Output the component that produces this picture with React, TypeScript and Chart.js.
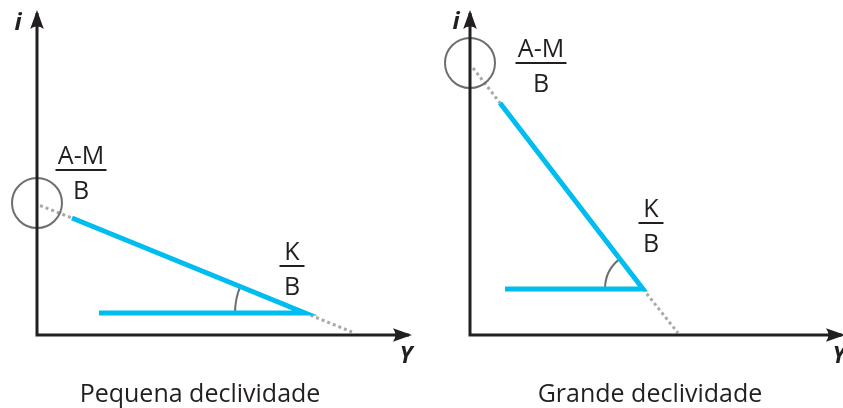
import { useEffect, useRef } from 'react';
import { Chart, registerables } from 'chart.js';

Chart.register(...registerables);

// ---------- data (units: Y along the horizontal axis, i along the vertical axis) ----------
const panelTitles = ['Pequena declividade', 'Grande declividade'];
const iAxisLabel = 'i';
const yAxisLabel = 'Y';
const interceptNumerator = 'A-M';
const slopeNumerator = 'K';
const denominator = 'B';

// axis extents
const yAxisEnd = [37.2, 37.2];
const iAxisEnd = [32.2, 32.2];

// intercept (A-M)/B on the i axis (circled)
const interceptI = [13.2, 27.2];

// left panel: small slope
const smallUpperDottedY = [0.3, 3.5];
const smallUpperDottedI = [12.95, 11.7];
const smallBlueY = [6.2, 26.8, 3.5];
const smallBlueI = [2.2, 2.2, 11.7];
const smallLowerDottedY = [26.8, 31.5];
const smallLowerDottedI = [2.2, 0.3];

// right panel: large slope
const largeUpperDottedY = [0.3, 3.0];
const largeUpperDottedI = [26.7, 23.2];
const largeBlueY = [3.5, 17.3, 3.0];
const largeBlueI = [4.6, 4.6, 23.2];
const largeLowerDottedY = [17.3, 20.8];
const largeLowerDottedI = [4.6, 0.2];

// ---------- styles ----------
const BLUE = '#00BDF0';
const INK = '#231F20';
const DOT = '#A7A9AC';
const RING = '#6D6E71';
const FONT = "'Open Sans', 'Noto Sans', sans-serif";

type P = { x: number; y: number };
const pts = (xs: number[], ys: number[]): P[] => xs.map((x, i) => ({ x, y: ys[i] }));

interface PanelSpec {
  title: string;
  left: number;
  width: number;
  xMin: number;
  xMax: number;
  yMin: number;
  yMax: number;
  yEnd: number;
  iEnd: number;
  intercept: number;
  upper: P[];
  blue: P[];
  lower: P[];
  interceptBarAt: P;
  slopeBarAt: P;
  iLabelAt: P;
  yLabelAt: P;
  titleAt: P;
  arcRadius: number;
}

const panels: PanelSpec[] = [
  {
    title: panelTitles[0],
    left: 0,
    width: 421,
    xMin: -3.7,
    xMax: 38.4,
    yMin: -7.3,
    yMax: 33.5,
    yEnd: yAxisEnd[0],
    iEnd: iAxisEnd[0],
    intercept: interceptI[0],
    upper: pts(smallUpperDottedY, smallUpperDottedI),
    blue: pts(smallBlueY, smallBlueI),
    lower: pts(smallLowerDottedY, smallLowerDottedI),
    interceptBarAt: { x: 4.4, y: 16.5 },
    slopeBarAt: { x: 25.5, y: 6.9 },
    iLabelAt: { x: -1.9, y: 30.5 },
    yLabelAt: { x: 36.9, y: -2.8 },
    titleAt: { x: 16.3, y: -6.7 },
    arcRadius: 70,
  },
  {
    title: panelTitles[1],
    left: 421,
    width: 422,
    xMin: -4.9,
    xMax: 37.3,
    yMin: -7.3,
    yMax: 33.5,
    yEnd: yAxisEnd[1],
    iEnd: iAxisEnd[1],
    intercept: interceptI[1],
    upper: pts(largeUpperDottedY, largeUpperDottedI),
    blue: pts(largeBlueY, largeBlueI),
    lower: pts(largeLowerDottedY, largeLowerDottedI),
    interceptBarAt: { x: 7.1, y: 27.2 },
    slopeBarAt: { x: 18.1, y: 11.2 },
    iLabelAt: { x: -1.4, y: 30.6 },
    yLabelAt: { x: 36.9, y: -2.8 },
    titleAt: { x: 18.0, y: -6.7 },
    arcRadius: 38,
  },
];

function drawArrow(ctx: CanvasRenderingContext2D, x: number, y: number, dir: 'up' | 'right') {
  const L = 19;
  const W = 6.8;
  const N = 3;
  ctx.beginPath();
  if (dir === 'up') {
    ctx.moveTo(x, y);
    ctx.lineTo(x + W, y + L);
    ctx.quadraticCurveTo(x, y + L - N * 1.6, x - W, y + L);
  } else {
    ctx.moveTo(x, y);
    ctx.lineTo(x - L, y + W);
    ctx.quadraticCurveTo(x - L + N * 1.6, y, x - L, y - W);
  }
  ctx.closePath();
  ctx.fill();
}

function drawFraction(
  ctx: CanvasRenderingContext2D,
  cx: number,
  barY: number,
  num: string,
  den: string,
  barW: number
) {
  ctx.fillStyle = INK;
  ctx.font = `25px ${FONT}`;
  ctx.textAlign = 'center';
  ctx.textBaseline = 'alphabetic';
  ctx.fillText(num, cx, barY - 6);
  ctx.fillText(den, cx, barY + 29);
  ctx.strokeStyle = INK;
  ctx.lineWidth = 2;
  ctx.beginPath();
  ctx.moveTo(cx - barW / 2, barY);
  ctx.lineTo(cx + barW / 2, barY);
  ctx.stroke();
}

function makePlugin(spec: PanelSpec) {
  return {
    id: 'diagram',
    beforeDatasetsDraw(chart: any) {
      const ctx: CanvasRenderingContext2D = chart.ctx;
      const xs = chart.scales.x;
      const ys = chart.scales.y;
      const v = spec.blue[1];
      const u = spec.blue[2];
      const vx = xs.getPixelForValue(v.x);
      const vy = ys.getPixelForValue(v.y);
      const ux = xs.getPixelForValue(u.x);
      const uy = ys.getPixelForValue(u.y);
      const a2 = Math.atan2(uy - vy, ux - vx);
      ctx.save();
      ctx.strokeStyle = RING;
      ctx.lineWidth = 2;
      ctx.beginPath();
      ctx.arc(vx, vy, spec.arcRadius, a2, -Math.PI, true);
      ctx.stroke();
      ctx.restore();
    },
    afterDatasetsDraw(chart: any) {
      const ctx: CanvasRenderingContext2D = chart.ctx;
      const xs = chart.scales.x;
      const ys = chart.scales.y;
      const px = (p: P) => [xs.getPixelForValue(p.x), ys.getPixelForValue(p.y)];
      ctx.save();
      ctx.fillStyle = INK;
      const [ax, ay] = px({ x: 0, y: spec.iEnd });
      drawArrow(ctx, ax, ay - 3, 'up');
      const [bx, by] = px({ x: spec.yEnd, y: 0 });
      drawArrow(ctx, bx + 3, by, 'right');

      const [f1x, f1y] = px(spec.interceptBarAt);
      drawFraction(ctx, f1x, f1y, interceptNumerator, denominator, 51);
      const [f2x, f2y] = px(spec.slopeBarAt);
      drawFraction(ctx, f2x, f2y, slopeNumerator, denominator, 25);

      ctx.fillStyle = INK;
      ctx.textAlign = 'center';
      ctx.textBaseline = 'alphabetic';
      ctx.font = `italic bold 24px ${FONT}`;
      const [ix, iy] = px(spec.iLabelAt);
      ctx.fillText(iAxisLabel, ix, iy);
      const [yx, yy] = px(spec.yLabelAt);
      ctx.font = `italic bold 23px ${FONT}`;
      ctx.fillText(yAxisLabel, yx, yy);

      ctx.font = `25px ${FONT}`;
      const [tx, ty] = px(spec.titleAt);
      ctx.fillText(spec.title, tx, ty);
      ctx.restore();
    },
  };
}

function Panel({ spec }: { spec: PanelSpec }) {
  const ref = useRef<HTMLCanvasElement | null>(null);
  useEffect(() => {
    if (!ref.current) return;
    const chart = new Chart(ref.current, {
      type: 'scatter',
      data: {
        datasets: [
          {
            data: spec.blue,
            showLine: true,
            borderColor: BLUE,
            borderWidth: 5,
            borderCapStyle: 'butt',
            borderJoinStyle: 'miter',
            pointRadius: 0,
          },
          {
            data: [
              { x: 0, y: spec.iEnd },
              { x: 0, y: 0 },
              { x: spec.yEnd, y: 0 },
            ],
            showLine: true,
            borderColor: INK,
            borderWidth: 3,
            borderCapStyle: 'butt',
            borderJoinStyle: 'miter',
            pointRadius: 0,
          },
          {
            data: [{ x: 0, y: spec.intercept }],
            showLine: false,
            pointRadius: 25,
            pointBorderWidth: 2,
            pointBorderColor: RING,
            pointBackgroundColor: 'rgba(0,0,0,0)',
          },
          {
            data: spec.upper,
            showLine: true,
            borderColor: DOT,
            borderWidth: 3,
            borderDash: [3, 3],
            borderCapStyle: 'butt',
            pointRadius: 0,
          },
          {
            data: spec.lower,
            showLine: true,
            borderColor: DOT,
            borderWidth: 3,
            borderDash: [3, 3],
            borderCapStyle: 'butt',
            pointRadius: 0,
          },
        ] as any,
      },
      options: {
        animation: false,
        responsive: false,
        devicePixelRatio: 1,
        events: [],
        layout: { padding: 0, autoPadding: false },
        scales: {
          x: { type: 'linear', min: spec.xMin, max: spec.xMax, display: false },
          y: { type: 'linear', min: spec.yMin, max: spec.yMax, display: false },
        },
        plugins: {
          legend: { display: false },
          tooltip: { enabled: false },
          title: { display: false },
        },
      } as any,
      plugins: [makePlugin(spec)],
    });
    return () => chart.destroy();
  }, [spec]);
  return (
    <canvas
      ref={ref}
      width={spec.width}
      height={408}
      style={{ position: 'absolute', left: spec.left, top: 0, width: spec.width, height: 408 }}
    />
  );
}

export default function App() {
  return (
    <div
      style={{
        position: 'fixed',
        left: 0,
        top: 0,
        width: 843,
        height: 408,
        background: '#ffffff',
        overflow: 'hidden',
      }}
    >
      {panels.map((p) => (
        <Panel key={p.title} spec={p} />
      ))}
    </div>
  );
}
